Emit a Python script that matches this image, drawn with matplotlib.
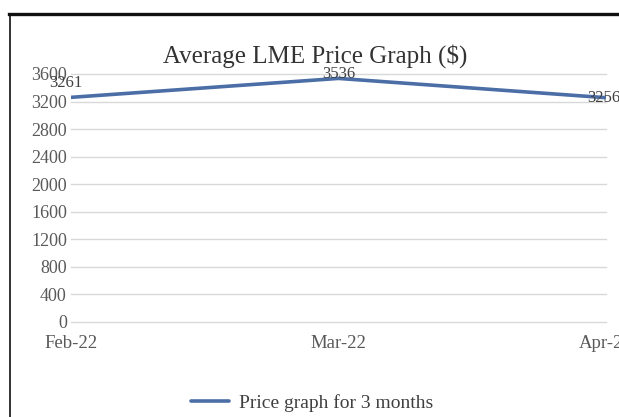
import matplotlib.pyplot as plt
from matplotlib.lines import Line2D

# === DATA ===
months = ['Feb-22', 'Mar-22', 'Apr-22']
prices = [3261, 3536, 3256]
y_ticks = [0, 400, 800, 1200, 1600, 2000, 2400, 2800, 3200, 3600]
series_name = 'Price graph for 3 months'

# label offsets in pixels (dx, dy)
label_offsets = [(-5, 14), (0, 4), (-2, 0)]

plt.rcParams['font.family'] = ['Liberation Serif', 'DejaVu Serif']

W, H = 619, 417
fig = plt.figure(figsize=(W / 100, H / 100), dpi=100)
ax = fig.add_axes([71 / W, (H - 322) / H, (606 - 71) / W, (322 - 74) / H])

x = list(range(len(months)))
line, = ax.plot(x, prices, color='#4b6ea6', lw=2.6, solid_capstyle='round',
                label=series_name)

for xi, p, (dx, dy) in zip(x, prices, label_offsets):
    ax.annotate(str(p), (xi, p), xytext=(dx, dy), textcoords='offset pixels',
                ha='center', va='center', fontsize=12, color='#404040',
                annotation_clip=False)

ax.set_xlim(0, len(months) - 1)
ax.set_ylim(0, 3600)
ax.set_xticks(x)
ax.set_xticklabels(months)
ax.set_yticks(y_ticks)
ax.tick_params(axis='both', length=0, labelsize=13, colors='#595959')
ax.tick_params(axis='x', labelsize=13.5, pad=9)
ax.tick_params(axis='y', pad=3)
ax.yaxis.grid(True, color='#d9d9d9', lw=1)
for gl in ax.get_ygridlines():
    gl.set_clip_on(False)
ax.set_axisbelow(True)
for s in ax.spines.values():
    s.set_visible(False)

fig.text(315 / W, (H - 56) / H, 'Average LME Price Graph ($)', ha='center',
         va='center', fontsize=18, color='#333333')

fig.legend(handles=[line], loc='center', bbox_to_anchor=(312 / W, (H - 403) / H),
           frameon=False, fontsize=14, handlelength=2.0, handletextpad=0.5,
           labelcolor='#404040')

# black frame lines (screenshot edges)
fig.add_artist(Line2D([9 / W, 1], [(H - 14) / H] * 2, color='#111111', lw=2.4,
                      transform=fig.transFigure))
fig.add_artist(Line2D([9.5 / W] * 2, [0, (H - 14) / H], color='#111111', lw=1.2,
                      transform=fig.transFigure))

fig.savefig('out.png', dpi=100)
